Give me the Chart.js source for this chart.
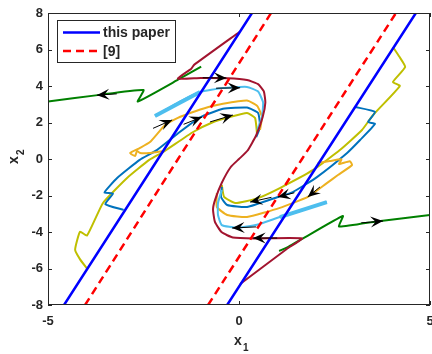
<!DOCTYPE html>
<html lang="en">
<head>
<meta charset="UTF-8" />
<title>Phase portrait</title>
<script src="https://cdn.jsdelivr.net/npm/chart.js"></script>
<style>
  body { margin: 0; background: #fff; }
</style>
</head>
<body>
<canvas id="phaseChart" width="432" height="354"></canvas>
<script>
  // axis ticks
  const xTicks = [-5, 0, 5];
  const yTicks = [-8, -6, -4, -2, 0, 2, 4, 6, 8];

  // switching lines: [x1, x2] end points
  const paperLines = [
    [[-4.58, -8], [0.34, 8]],
    [[-0.31, -8], [4.63, 8]]
  ];
  const refLines = [
    [[-4.03, -8], [0.84, 8]],
    [[-0.81, -8], [4.11, 8]]
  ];

  // trajectories, upper-left half
  const greenUpper = [[-0.99, 5.06], [-1.55, 4.40], [-2.65, 3.15], [-2.50, 3.78], [-3.70, 3.50], [-5.00, 3.15]];
  const maroonPath = [[0.01, 6.96], [-1.17, 5.17], [-1.25, 4.95], [-1.60, 4.40], [-1.00, 4.44], [-0.30, 4.42],
    [0.21, 4.33], [0.50, 4.10], [0.65, 3.70], [0.69, 3.10], [0.62, 2.30], [0.45, 1.30], [0.22, 0.45],
    [0.00, 0.00], [-0.22, -0.45], [-0.45, -1.30], [-0.62, -2.20], [-0.68, -2.75], [-0.63, -3.45],
    [-0.45, -4.02], [-0.16, -4.30], [0.40, -4.35], [1.65, -4.35], [1.25, -4.93], [0.03, -6.85]];
  const cyanUpper = [[-2.20, 2.36], [-1.50, 3.20], [-1.02, 3.67], [-0.42, 3.89], [0.21, 3.95], [0.50, 3.70],
    [0.63, 3.10], [0.60, 2.30], [0.48, 1.60]];
  const cyanUpperThick = [[-2.20, 2.36], [-1.02, 3.67]];
  const orangeUpper = [[-1.99, 0.44], [-2.35, 0.33], [-2.59, 0.33], [-2.67, 0.44], [-2.72, 0.16], [-2.85, 0.33],
    [-2.60, 0.60], [-2.33, 0.93], [-1.94, 1.85], [-1.60, 2.25], [-1.28, 2.52], [-0.80, 2.85], [-0.42, 3.03],
    [0.21, 3.20], [0.48, 2.90], [0.60, 2.30], [0.55, 1.60]];
  const blueUpper = [[-3.02, -2.79], [-3.50, -2.47], [-3.30, -1.90], [-3.52, -1.83], [-3.19, -1.04], [-2.60, -0.05],
    [-2.15, 0.49], [-1.60, 1.40], [-1.02, 2.28], [-0.42, 2.75], [0.21, 2.82], [0.50, 2.52], [0.55, 1.75], [0.45, 1.20]];
  const oliveUpper = [[-3.98, -6.00], [-4.16, -5.50], [-4.29, -4.97], [-4.16, -3.98], [-3.98, -4.20], [-3.56, -2.41],
    [-2.93, -1.04], [-2.35, -0.05], [-1.99, 0.38], [-1.20, 1.48], [-0.70, 2.00], [-0.24, 2.30], [0.21, 2.52],
    [0.42, 2.25], [0.47, 1.42]];

  // trajectories, lower-right half
  const greenLower = [[1.05, -5.04], [1.30, -4.80], [1.65, -4.38], [2.72, -3.12], [2.62, -3.70], [3.60, -3.42], [5.00, -3.07]];
  const cyanLower = [[2.30, -2.36], [1.60, -2.85], [1.07, -3.18], [0.47, -3.60], [-0.05, -3.76], [-0.45, -3.62],
    [-0.55, -3.07], [-0.55, -2.41], [-0.45, -1.70]];
  const cyanLowerThick = [[2.30, -2.36], [1.07, -3.18]];
  const orangeLower = [[2.06, -0.22], [2.38, -0.11], [2.68, -0.02], [2.62, -0.28], [2.90, -0.12], [2.96, -0.33],
    [2.59, -0.88], [2.30, -1.32], [1.80, -2.08], [1.07, -2.68], [0.21, -3.18], [-0.31, -3.07], [-0.58, -2.63], [-0.58, -1.86]];
  const blueLower = [[3.04, 2.85], [3.56, 2.58], [3.38, 2.03], [3.56, 1.92], [3.17, 1.04], [2.83, 0.33], [2.04, -0.99],
    [1.41, -1.81], [1.02, -2.08], [0.21, -2.63], [-0.31, -2.52], [-0.47, -2.08], [-0.45, -1.53]];
  const oliveLower = [[4.03, 6.14], [4.20, 5.60], [4.35, 5.04], [4.03, 4.22], [4.21, 4.00], [3.51, 2.41], [3.22, 1.59],
    [2.64, 0.49], [1.94, -0.60], [1.07, -1.59], [0.47, -2.16], [-0.10, -2.41], [-0.39, -2.08], [-0.45, -1.42]];

  // direction arrows: tail x1, tail x2, tip x1, tip x2
  const arrows = [
    [-3.20, 3.57, -3.72, 3.50],
    [-0.95, 4.45, -0.33, 4.44],
    [-0.60, 3.88, 0.03, 3.90],
    [-2.25, 1.68, -1.75, 2.14],
    [-1.45, 1.90, -0.97, 2.30],
    [-0.76, 2.03, -0.16, 2.41],
    [3.20, -3.50, 3.77, -3.40],
    [1.00, -4.33, 0.37, -4.33],
    [0.45, -3.72, -0.18, -3.78],
    [2.12, -1.53, 1.80, -2.08],
    [1.45, -1.85, 1.02, -2.08],
    [0.85, -2.10, 0.29, -2.36]
  ];

  const legendLabels = ['this paper', '[9]'];

  const toPts = arr => arr.map(p => ({ x: p[0], y: p[1] }));
  function path(data, color, width, dash, label) {
    return {
      label: label || '',
      data: toPts(data),
      borderColor: color,
      backgroundColor: color,
      borderWidth: width,
      borderDash: dash || [],
      showLine: true,
      pointRadius: 0,
      tension: 0.15,
      fill: false
    };
  }

  const dark = '#262626';
  const datasets = [
    path(paperLines[0], '#0000ff', 2.5, null, legendLabels[0]),
    path(paperLines[1], '#0000ff', 2.5),
    path(refLines[0], '#ff0000', 2.5, [8, 5], legendLabels[1]),
    path(refLines[1], '#ff0000', 2.5, [8, 5]),
    path(maroonPath, '#a2142f', 2),
    path(greenUpper, '#008000', 2),
    path(greenLower, '#008000', 2),
    path(cyanUpperThick, '#4dbeee', 4),
    path(cyanLowerThick, '#4dbeee', 4),
    path(cyanUpper, '#4dbeee', 2),
    path(cyanLower, '#4dbeee', 2),
    path(orangeUpper, '#edb120', 2),
    path(orangeLower, '#edb120', 2),
    path(blueUpper, '#0072bd', 2),
    path(blueLower, '#0072bd', 2),
    path(oliveUpper, '#bfbf00', 2),
    path(oliveLower, '#bfbf00', 2)
  ];

  // arrows, box, inward ticks, legend and axis titles
  const decor = {
    id: 'decor',
    afterDatasetsDraw(chart) {
      const { ctx, chartArea: a, scales: { x, y } } = chart;
      ctx.save();
      ctx.beginPath();
      ctx.rect(a.left, a.top, a.width, a.height);
      ctx.clip();
      arrows.forEach(([x0, y0, x1, y1]) => {
        const p0x = x.getPixelForValue(x0), p0y = y.getPixelForValue(y0);
        const p1x = x.getPixelForValue(x1), p1y = y.getPixelForValue(y1);
        const len = Math.hypot(p1x - p0x, p1y - p0y);
        const ux = (p1x - p0x) / len, uy = (p1y - p0y) / len;
        const nx = -uy, ny = ux;
        const L = 12.5, W = 5.5;
        ctx.strokeStyle = '#000';
        ctx.lineWidth = 1;
        ctx.beginPath();
        ctx.moveTo(p0x, p0y);
        ctx.lineTo(p1x, p1y);
        ctx.stroke();
        ctx.fillStyle = '#000';
        ctx.beginPath();
        ctx.moveTo(p1x, p1y);
        ctx.lineTo(p1x - L * ux + W * nx, p1y - L * uy + W * ny);
        ctx.lineTo(p1x - 0.6 * L * ux, p1y - 0.6 * L * uy);
        ctx.lineTo(p1x - L * ux - W * nx, p1y - L * uy - W * ny);
        ctx.closePath();
        ctx.fill();
      });
      ctx.restore();

      // box and ticks
      ctx.save();
      ctx.strokeStyle = dark;
      ctx.lineWidth = 1;
      ctx.strokeRect(a.left + 0.5, a.top + 0.5, a.width - 1, a.height - 1);
      ctx.beginPath();
      xTicks.forEach(v => {
        const px = Math.round(x.getPixelForValue(v)) + 0.5;
        ctx.moveTo(px, a.bottom); ctx.lineTo(px, a.bottom - 4);
        ctx.moveTo(px, a.top); ctx.lineTo(px, a.top + 4);
      });
      yTicks.forEach(v => {
        const py = Math.round(y.getPixelForValue(v)) + 0.5;
        ctx.moveTo(a.left, py); ctx.lineTo(a.left + 4, py);
        ctx.moveTo(a.right, py); ctx.lineTo(a.right - 4, py);
      });
      ctx.stroke();

      // legend
      const bx = a.left + 9, by = a.top + 7, bw = 118, bh = 42;
      ctx.fillStyle = '#fff';
      ctx.fillRect(bx, by, bw, bh);
      ctx.strokeRect(bx + 0.5, by + 0.5, bw, bh);
      ctx.font = 'bold 14px "Liberation Sans", Arial, sans-serif';
      ctx.textBaseline = 'middle';
      ctx.textAlign = 'left';
      [0, 2].forEach((di, i) => {
        const ds = chart.data.datasets[di];
        const ly = by + 12.5 + i * 18.5;
        ctx.strokeStyle = ds.borderColor;
        ctx.lineWidth = ds.borderWidth;
        ctx.setLineDash(ds.borderDash);
        ctx.beginPath();
        ctx.moveTo(bx + 6, ly);
        ctx.lineTo(bx + 43, ly);
        ctx.stroke();
        ctx.setLineDash([]);
        ctx.fillStyle = dark;
        ctx.fillText(ds.label, bx + 46, ly + 1);
      });
      ctx.restore();
    },
    afterDraw(chart) {
      const { ctx, chartArea: a } = chart;
      ctx.save();
      ctx.fillStyle = dark;
      ctx.textBaseline = 'alphabetic';
      ctx.textAlign = 'left';
      const cx = (a.left + a.right) / 2;
      ctx.font = 'bold 14px "Liberation Sans", Arial, sans-serif';
      ctx.fillText('x', cx - 5, 345);
      ctx.font = 'bold 10px "Liberation Sans", Arial, sans-serif';
      ctx.fillText('1', cx + 4, 351);
      ctx.translate(18, (a.top + a.bottom) / 2);
      ctx.rotate(-Math.PI / 2);
      ctx.font = 'bold 14px "Liberation Sans", Arial, sans-serif';
      ctx.fillText('x', -5, 0);
      ctx.font = 'bold 10px "Liberation Sans", Arial, sans-serif';
      ctx.fillText('2', 4, 6);
      ctx.restore();
    }
  };

  const tickFont = { family: '"Liberation Sans", Arial, sans-serif', size: 13, weight: 'bold' };

  new Chart(document.getElementById('phaseChart'), {
    type: 'scatter',
    data: { datasets: datasets },
    options: {
      responsive: false,
      animation: false,
      layout: { padding: { top: 13, right: 2, left: 0, bottom: 0 } },
      plugins: { legend: { display: false }, tooltip: { enabled: false } },
      scales: {
        x: {
          type: 'linear', min: -5, max: 5,
          grid: { display: false, drawTicks: false },
          border: { display: false },
          afterBuildTicks: s => { s.ticks = xTicks.map(v => ({ value: v })); },
          afterFit: s => { s.height = 49; s.paddingLeft = 0; s.paddingRight = 0; },
          ticks: { font: tickFont, color: dark, padding: 9, maxRotation: 0 }
        },
        y: {
          type: 'linear', min: -8, max: 8,
          grid: { display: false, drawTicks: false },
          border: { display: false },
          afterBuildTicks: s => { s.ticks = yTicks.map(v => ({ value: v })); },
          afterFit: s => { s.width = 48; s.paddingTop = 0; s.paddingBottom = 0; },
          ticks: { font: tickFont, color: dark, padding: 5 }
        }
      }
    },
    plugins: [decor]
  });
</script>
</body>
</html>
